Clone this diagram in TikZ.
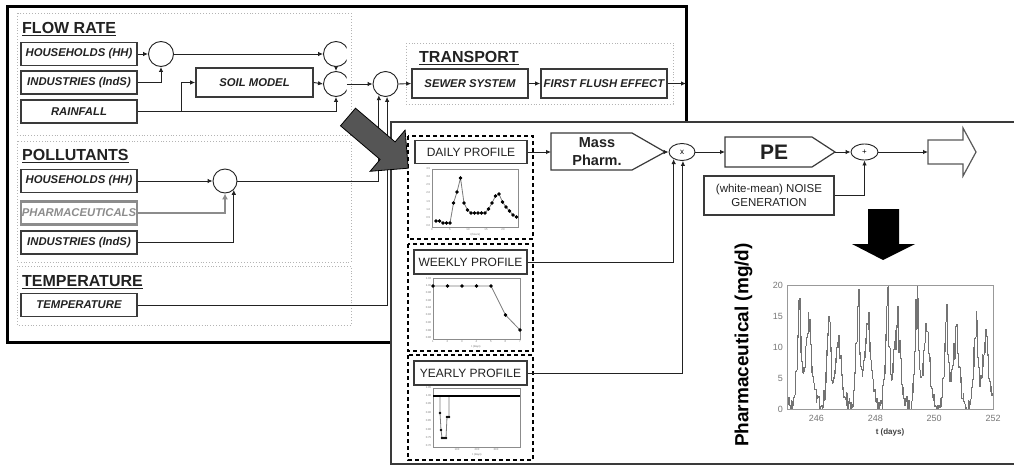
\documentclass[tikz,border=0pt]{standalone}
\usepackage{fontspec}
\setmainfont{Liberation Sans}
\usetikzlibrary{arrows.meta,shapes.geometric}

\definecolor{ink}{HTML}{222222}
\definecolor{edge}{HTML}{3A3A3A}
\definecolor{grpline}{HTML}{B4B4B4}
\definecolor{pharmgrey}{HTML}{8C8C8C}
\definecolor{bigarrow}{HTML}{555555}
\definecolor{plotgrey}{HTML}{7A7A7A}
\definecolor{ticktext}{HTML}{777777}

\tikzset{
  wire/.style={line width=0.9pt, draw=ink},
  arr/.style={wire, -{Latex[length=5pt,width=4.5pt]}},
  parr/.style={line width=2.2pt, draw=pharmgrey, -{Latex[length=6pt,width=6pt]}},
  grp/.style={draw=grpline, dotted, line width=0.9pt},
  gtitle/.style={font=\fontsize{16}{16}\selectfont\bfseries, anchor=base west, inner sep=0pt, text=ink},
  uline/.style={line width=1.6pt, draw=ink},
  inbox/.style={draw=edge, line width=1.6pt, minimum width=116pt, minimum height=23pt, inner sep=0pt,
    font=\fontsize{11.3}{11}\selectfont\bfseries\itshape, text=ink},
  sumnode/.style={draw=ink, line width=0.9pt, circle, minimum size=25pt, inner sep=0pt},
  pbox/.style={draw=edge, line width=1.4pt, minimum width=113pt, minimum height=24pt, inner sep=0pt,
    font=\fontsize{12}{12}\selectfont, text=ink},
  profgroup/.style={draw=black, dash pattern=on 4pt off 3pt, line width=1.4pt},
  blockshape/.style={draw=edge, line width=1.2pt, fill=white},
  opnode/.style={draw=ink, line width=0.9pt, ellipse, inner sep=0pt, font=\fontsize{8}{8}\selectfont},
  miniframe/.style={draw=black!45, line width=0.6pt},
  minitick/.style={font=\fontsize{2.8}{3}\selectfont, text=ticktext, inner sep=0.5pt},
  miniline/.style={draw=plotgrey, line width=0.8pt},
  minimark/.style={fill=black},
  charttick/.style={font=\fontsize{9}{9}\selectfont, text=ticktext, inner sep=1pt},
  series/.style={draw=black!55, line width=0.6pt},
}

\begin{document}
\begin{tikzpicture}[x=1pt,y=-1pt]
\useasboundingbox (0,0) rectangle (1014,466);
\fill[white] (0,0) rectangle (1014,466);

% ---------------- model overview panel ----------------
\draw[black, line width=3pt] (7,6) rectangle (686,342);

% group frames
\draw[grp] (17,13) rectangle (351,135);
\draw[grp] (17,141) rectangle (351,262);
\draw[grp] (17,266) rectangle (351,325);
\draw[grp] (406,43) rectangle (673,104);

% group titles
\node[gtitle] (tflow) at (22,33) {FLOW RATE};
\node[gtitle] (tpoll) at (22,160) {POLLUTANTS};
\node[gtitle] (ttemp) at (22,286) {TEMPERATURE};
\node[gtitle] (ttrans) at (419,62) {TRANSPORT};
\foreach \t in {tflow,tpoll,ttemp,ttrans}
  \draw[uline] ([yshift=-2.3pt]\t.base west) -- ([yshift=-2.3pt]\t.base east);

% flow rate inputs
\node[inbox] (hh1) at (79,54) {HOUSEHOLDS (HH)};
\node[inbox] (ind1) at (79,82.5) {INDUSTRIES (IndS)};
\node[inbox] (rain) at (79,111.5) {RAINFALL};
\node[inbox, minimum width=117pt, minimum height=29pt] (soil) at (254.5,82.5) {SOIL MODEL};

% pollutant inputs
\node[inbox] (hh2) at (79,181) {HOUSEHOLDS (HH)};
\node[inbox, draw=pharmgrey, line width=2.4pt, text=pharmgrey] (pha) at (79,213) {PHARMACEUTICALS};
\node[inbox] (ind2) at (79,242.5) {INDUSTRIES (IndS)};

% temperature input
\node[inbox] (tmp) at (79,305) {TEMPERATURE};

% transport blocks
\node[inbox, minimum width=116pt, minimum height=29pt] (sew) at (470,83.5) {SEWER SYSTEM};
\node[inbox, minimum width=126pt, minimum height=29pt] (ffe) at (604,83.5) {FIRST FLUSH EFFECT};

% summation points
\node[sumnode] (c1) at (161,54) {};
\begin{scope}
  \clip (300,30) rectangle (346.5,110);
  \node[sumnode] (c2) at (336,54) {};
  \node[sumnode] (c3) at (336,84) {};
\end{scope}
\node[sumnode] (c4) at (385.5,84) {};
\node[sumnode, minimum size=24pt] (cp) at (225,181) {};

% flow rate wiring
\coordinate (rj) at (181,111.5);
\draw[arr] (hh1.east) -- (c1.west);
\draw[arr] (ind1.east) -| (c1.south);
\draw[arr] (c1.east) -- (c2.west);
\draw[arr] (c2.south) -- (c3.north);
\draw[arr] (rain.east) -| (c3.south);
\draw[arr] (rj) |- (soil.west);
\draw[arr] (soil.east) -- (c3.west);
\draw[arr] ([xshift=-2pt]c3.east) -- (c4.west);
\draw[arr] (c4.east) -- (sew.west);
\draw[arr] (sew.east) -- (ffe.west);
\coordinate (fout) at (686,83.5);
\draw[arr] (ffe.east) -- (fout);

% pollutant wiring
\draw[arr] (hh2.east) -- (cp.west);
\draw[parr] (pha.east) -| (cp.south);
\draw[arr] (ind2.east) -| (cp.south east);
\draw[arr] (cp.east) -| (c4.239);
\draw[arr] (tmp.east) -| (c4.277);

% ---------------- pharmaceutical generator panel ----------------
\draw[edge, line width=2.5pt, fill=white] (391,122) rectangle (1020,464);

% profile groups
\draw[profgroup] (408,136) rectangle (533,239);
\draw[profgroup] (408,244) rectangle (533,351);
\draw[profgroup] (408,355) rectangle (533,460);

\node[pbox, minimum width=112pt, minimum height=23pt] (daily) at (471,152) {DAILY PROFILE};
\node[pbox] (weekly) at (470.5,262) {WEEKLY PROFILE};
\node[pbox] (yearly) at (470.5,373) {YEARLY PROFILE};

% daily profile plot
\draw[miniframe] (432,169) rectangle (518,227);
\foreach \lab/\yy in {0.0/226,0.5/218,1.0/210,1.5/202,2.0/193,2.5/185,3.0/177,3.5/169}
  \node[minitick, anchor=east] at (431,\yy) {\lab};
\foreach \lab/\xx in {0/432,5/450,10/468,15/486,20/503}
  \node[minitick, anchor=north] at (\xx,228) {\lab};
\node[minitick] at (475,234.5) {t (hours)};
\draw[miniline] plot[mark=*, mark size=1.3pt, mark options={minimark, draw=black}] coordinates {
  (436,221) (439.5,221) (443,223) (446.5,223) (450,223) (453.5,203) (457,192) (460.5,178)
  (464,203) (467.5,210) (471,213) (474.5,213) (478,213) (481.5,213) (485,213) (488.5,209)
  (492,203) (495.5,196) (499,194) (502.5,202) (506,207) (509.5,211) (513,215) (516.5,217)};

% weekly profile plot
\draw[miniframe] (433,278) rectangle (520,339);
\foreach \lab/\yy in {1.02/279,1.00/286,0.98/293,0.96/301,0.94/308,0.92/315,0.90/323,0.88/331,0.86/338}
  \node[minitick, anchor=east] at (432,\yy) {\lab};
\foreach \lab/\xx in {1/433,2/447.5,3/462,4/476.5,5/491,6/505.5,7/520}
  \node[minitick, anchor=north] at (\xx,340) {\lab};
\node[minitick] at (476,347) {t (days)};
\draw[miniline] plot[mark=*, mark size=1.3pt, mark options={minimark, draw=black}] coordinates {
  (433,286) (447.5,286) (462,286) (476.5,286) (491,286) (505.5,315) (520,330)};

% yearly profile plot
\draw[miniframe] (433,388) rectangle (520,447);
\foreach \lab/\yy in {1.05/388,1.00/396,0.95/404,0.90/413,0.85/421,0.80/430,0.75/438,0.70/446}
  \node[minitick, anchor=east] at (432,\yy) {\lab};
\foreach \lab/\xx in {100/457,200/477,300/496}
  \node[minitick, anchor=north] at (\xx,448) {\lab};
\node[minitick] at (477,454.5) {t (days)};
\draw[miniline] (440,396) -- (440,413) -- (441,430) -- (442,438) -- (446,438) -- (447,417) -- (449,417) -- (449,396);
\draw[black, line width=2.2pt] (433,396) -- (520,396);
\foreach \xx/\yy in {440/413,441/430,442/438,444/438,446/438,447/417,449/417}
  \fill[minimark] (\xx,\yy) circle (1.3pt);

% mass block
\draw[blockshape] (551,133) -- (632,133) -- (665,152) -- (632,170) -- (551,170) -- cycle;
\coordinate (mass-w) at (551,152);
\coordinate (mass-tip) at (665,152);
\node[align=center, font=\fontsize{14.5}{18}\selectfont\bfseries, text=ink] (mass) at (597,152) {Mass\\Pharm.};

% multiplier
\node[opnode, minimum width=26pt, minimum height=17pt] (mul) at (682,152) {x};

% PE block
\draw[blockshape] (725,137) -- (812,137) -- (835,152) -- (812,167) -- (725,167) -- cycle;
\coordinate (pe-w) at (725,152);
\coordinate (pe-tip) at (835,152);
\node[font=\fontsize{21}{21}\selectfont\bfseries, text=ink] (pe) at (774,152) {PE};

% adder
\node[opnode, minimum width=27pt, minimum height=16pt] (plus) at (864.5,152) {+};

% noise generator
\node[draw=edge, line width=1.2pt, minimum width=130pt, minimum height=39pt, inner sep=0pt,
  align=center, font=\fontsize{11.5}{13.5}\selectfont, text=ink] (noise) at (769,195.5)
  {(white-mean) NOISE\\GENERATION};

% output arrow
\draw[draw=black!65, line width=1.2pt, fill=white]
  (928,140) -- (963,140) -- (963,128) -- (976,152) -- (963,176) -- (963,164) -- (928,164) -- cycle;
\coordinate (out-w) at (928,152);

% generator wiring
\draw[arr] (daily.east) -- (mass-w);
\draw[arr] (mass-tip) -- (mul.west);
\draw[arr] (weekly.east) -| (mul.220);
\draw[arr] (yearly.east) -| (mul.276);
\draw[arr] (mul.east) -- (pe-w);
\draw[arr] (pe-tip) -- (plus.west);
\draw[arr] (noise.east) -| (plus.south);
\draw[arr] (plus.east) -- (out-w);

% black down arrow
\fill[black] (868,209) -- (899,209) -- (899,244) -- (915,244) -- (883,260) -- (852,244) -- (868,244) -- cycle;

% generated time series chart
\node[rotate=90, font=\fontsize{19}{19}\selectfont\bfseries, text=black] (ylab) at (743.5,345) {Pharmaceutical (mg/d)};
\foreach \lab/\yy in {20/285,15/316,10/347,5/378,0/409}
  \node[charttick, anchor=east] at (784,\yy) {\lab};
\foreach \lab/\xx in {246/816.4,248/875.3,250/934.1,252/993}
  \node[charttick, anchor=north] at (\xx,414) {\lab};
\node[font=\fontsize{8}{8}\selectfont\bfseries, text=black!75] (xlab) at (890,432) {t (days)};

% half-hourly series: daily shape x day factor x noise
\pgfmathsetseed{31}
\def\dayshape{{1.2,0.8,0.4,0.2,0.1,0.5,2.5,5,8.5,12.5,14.5,8,5,4.5,5.5,7.5,9,10.5,11.5,8,5.5,4,2.5,1.6}}
\def\dayfac{{1.3,1.0,1.25,1.35,1.25,1.12,1.03}}
\xdef\prevy{409}
\foreach \i in {0,...,335}{
  \pgfmathtruncatemacro\hr{mod(floor(\i/2),24)}
  \pgfmathtruncatemacro\dd{floor(\i/48)}
  \pgfmathsetmacro\base{\dayshape[\hr]*\dayfac[\dd]}
  \pgfmathsetmacro\val{max(0,min(20,\base*(0.88+0.24*rnd)+1.3*rand))}
  \pgfmathsetmacro\yy{409-6.2*\val}
  \pgfmathsetmacro\xa{787+\i*0.613095}
  \pgfmathsetmacro\xb{\xa+0.613095}
  \draw[series] (\xa,\prevy) -- (\xa,\yy) -- (\xb,\yy);
  \xdef\prevy{\yy}
}
\draw[draw=black!40, line width=0.7pt] (787,285) rectangle (993,409);

% big linking arrow
\draw[fill=bigarrow, draw=black, line width=0.8pt]
  (355.5,108.2) -- (395.1,141.9) -- (405.1,130.1) -- (408.2,168.2)
  -- (370.1,171.3) -- (380.1,159.5) -- (340.5,125.8) -- cycle;
\end{tikzpicture}
\end{document}
